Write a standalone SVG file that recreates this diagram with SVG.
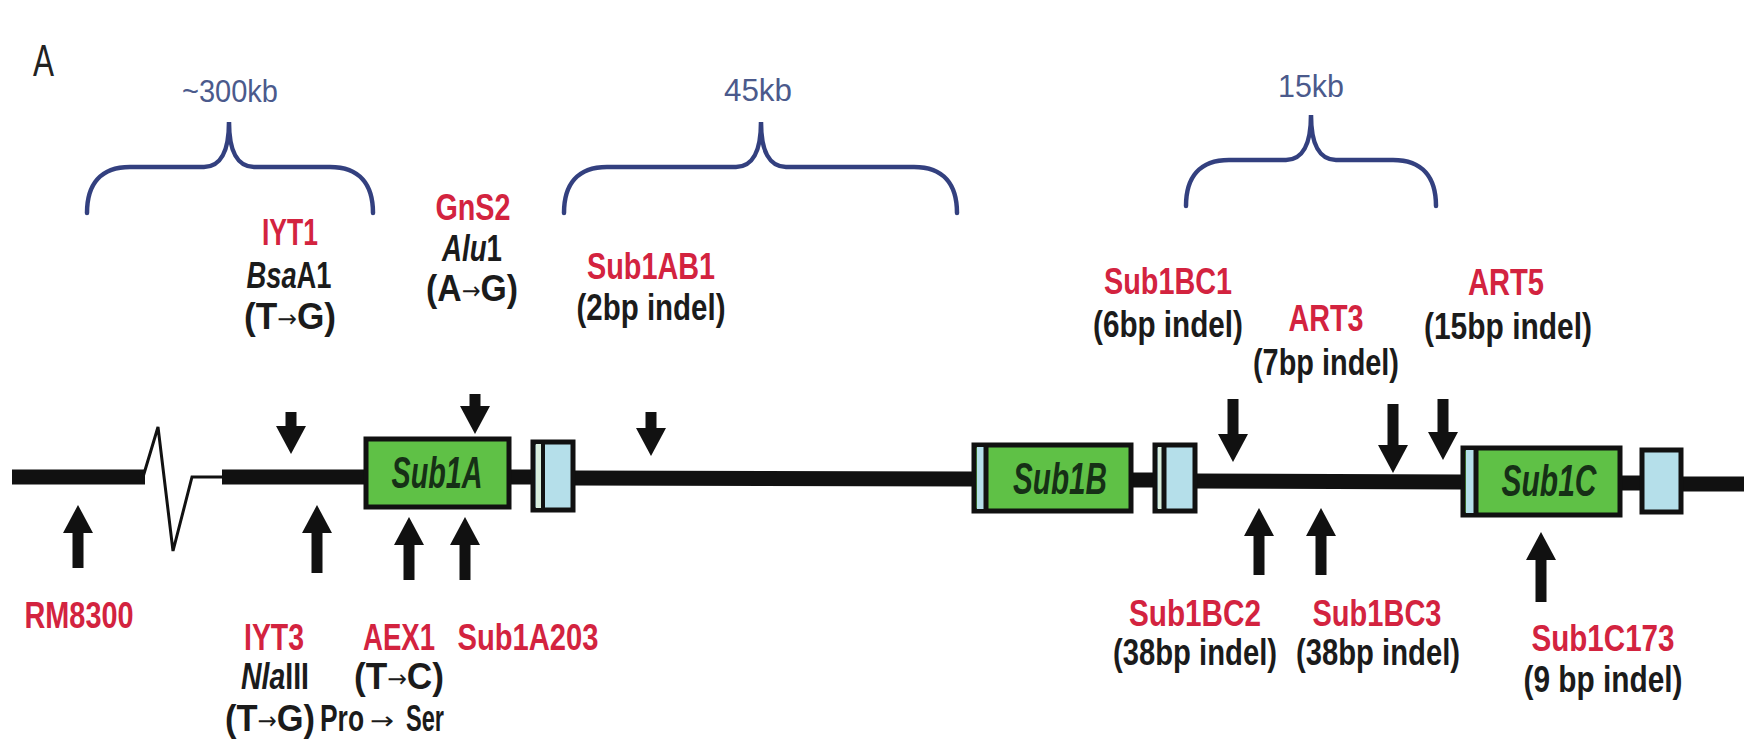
<svg xmlns="http://www.w3.org/2000/svg" width="1744" height="754" viewBox="0 0 1744 754">
<style>
text{font-family:"Liberation Sans",Arial,sans-serif;}
.r{fill:#d3233f;font-size:36px;font-weight:bold;text-anchor:middle;}
.k{fill:#1b1b1b;font-size:36px;font-weight:bold;text-anchor:middle;}
.s{text-anchor:start;}
.kb{fill:#4b5a8c;font-size:31px;text-anchor:middle;}
.g{fill:#163016;font-size:44px;font-style:italic;font-weight:bold;text-anchor:middle;}
.ar{font-family:"DejaVu Sans",sans-serif;font-size:24px;font-weight:normal;}
.br{fill:none;stroke:#33407f;stroke-width:4.5;stroke-linecap:round;}
.ln{stroke:#111;stroke-width:15;}
.thin{fill:none;stroke:#111;stroke-width:3;stroke-linejoin:miter;}
.box{stroke:#111;stroke-width:5;}
.gr{fill:#5fc146;}
.lb{fill:#b5dfea;}
.arr{stroke:#111;stroke-width:11;marker-end:url(#ah);}
</style>
<defs>
<marker id="ah" viewBox="0 0 28 30" refX="0" refY="15" markerWidth="28" markerHeight="30" markerUnits="userSpaceOnUse" orient="auto">
<path d="M0,0 L28,15 L0,30 Z" fill="#111"/>
</marker>
</defs>
<rect width="1744" height="754" fill="#fff"/>

<text x="33" y="76" style="font-family:'Liberation Sans',sans-serif;font-size:44px;fill:#222" textLength="21" lengthAdjust="spacingAndGlyphs">A</text>

<g id="braces">
<path class="br" d="M87,213 C87,185 100,167 130,167 L204,167 C220,167 229,152 229,122 C229,152 238,167 254,167 L330,167 C360,167 373,185 373,213"/>
<path class="br" d="M564,213 C564,185 577,167 607,167 L736,167 C752,167 761,152 761,122 C761,152 770,167 786,167 L914,167 C944,167 957,185 957,213"/>
<path class="br" d="M1186,206 C1186,178 1199,160 1229,160 L1286,160 C1302,160 1311,145 1311,115 C1311,145 1320,160 1336,160 L1393,160 C1423,160 1436,178 1436,206"/>
<text class="kb" x="230" y="102" textLength="96" lengthAdjust="spacingAndGlyphs">~300kb</text>
<text class="kb" x="758" y="101" textLength="68" lengthAdjust="spacingAndGlyphs">45kb</text>
<text class="kb" x="1311" y="97" textLength="66" lengthAdjust="spacingAndGlyphs">15kb</text>
</g>

<g id="backbone">
<line class="ln" x1="12" y1="477" x2="145" y2="477"/>
<polyline class="thin" points="143,477 158,427 173,551 192,477 224,477"/>
<line class="ln" x1="222" y1="477" x2="366" y2="477"/>
<line class="ln" x1="509" y1="477" x2="533" y2="477"/>
<line class="ln" x1="573" y1="478" x2="974" y2="479"/>
<line class="ln" x1="1131" y1="480" x2="1155" y2="480"/>
<line class="ln" x1="1195" y1="481" x2="1463" y2="482"/>
<line class="ln" x1="1620" y1="483" x2="1642" y2="483"/>
<line class="ln" x1="1681" y1="484" x2="1744" y2="484"/>
</g>

<g id="sub1a">
<rect class="box gr" x="366" y="439" width="143" height="68"/>
<text class="g" x="437" y="488" textLength="91" lengthAdjust="spacingAndGlyphs">Sub1A</text>
</g>
<g id="exon-a">
<rect class="box lb" x="533" y="442" width="40" height="68"/>
<rect x="536" y="444" width="5" height="64" fill="#d8eedd"/>
<line x1="543" y1="442" x2="543" y2="510" stroke="#111" stroke-width="4"/>
</g>

<g id="sub1b">
<rect class="box gr" x="974" y="445" width="157" height="66"/>
<rect x="977" y="447" width="8" height="62" fill="#b5dfea"/>
<line x1="986" y1="445" x2="986" y2="511" stroke="#111" stroke-width="5"/>
<text class="g" x="1060" y="494" textLength="94" lengthAdjust="spacingAndGlyphs">Sub1B</text>
</g>
<g id="exon-b">
<rect class="box lb" x="1155" y="445" width="40" height="66"/>
<rect x="1158" y="447" width="4" height="62" fill="#d8eedd"/>
<line x1="1164" y1="445" x2="1164" y2="511" stroke="#111" stroke-width="5"/>
</g>

<g id="sub1c">
<rect class="box gr" x="1463" y="448" width="157" height="67"/>
<rect x="1466" y="450" width="8" height="63" fill="#b5dfea"/>
<line x1="1476" y1="448" x2="1476" y2="515" stroke="#111" stroke-width="5"/>
<text class="g" x="1549" y="496" textLength="95" lengthAdjust="spacingAndGlyphs">Sub1C</text>
</g>
<g id="exon-c">
<rect class="box lb" x="1642" y="450" width="39" height="62"/>
</g>

<g id="connectors">
<line class="arr" x1="291" y1="412" x2="291" y2="426"/>
<line class="arr" x1="475" y1="394" x2="475" y2="406"/>
<line class="arr" x1="651" y1="412" x2="651" y2="428"/>
<line class="arr" x1="1233" y1="399" x2="1233" y2="434"/>
<line class="arr" x1="1393" y1="404" x2="1393" y2="445"/>
<line class="arr" x1="1443" y1="399" x2="1443" y2="432"/>
<line class="arr" x1="78" y1="568" x2="78" y2="533"/>
<line class="arr" x1="317" y1="573" x2="317" y2="533"/>
<line class="arr" x1="409" y1="580" x2="409" y2="545"/>
<line class="arr" x1="465" y1="580" x2="465" y2="545"/>
<line class="arr" x1="1259" y1="575" x2="1259" y2="536"/>
<line class="arr" x1="1321" y1="575" x2="1321" y2="536"/>
<line class="arr" x1="1541" y1="602" x2="1541" y2="560"/>
</g>

<g id="iyt1">
<text class="r" x="290" y="245" textLength="56" lengthAdjust="spacingAndGlyphs">IYT1</text>
<text class="k" x="289" y="288" textLength="85" lengthAdjust="spacingAndGlyphs"><tspan font-style="italic">Bsa</tspan>A1</text>
<text class="k" x="290" y="329" textLength="92" lengthAdjust="spacingAndGlyphs">(T<tspan class="ar" dy="-2">→</tspan><tspan dy="2">G)</tspan></text>
</g>
<g id="gns2">
<text class="r" x="473" y="220" textLength="75" lengthAdjust="spacingAndGlyphs">GnS2</text>
<text class="k" x="472" y="261" textLength="60" lengthAdjust="spacingAndGlyphs"><tspan font-style="italic">Alu</tspan>1</text>
<text class="k" x="472" y="301" textLength="92" lengthAdjust="spacingAndGlyphs">(A<tspan class="ar" dy="-2">→</tspan><tspan dy="2">G)</tspan></text>
</g>
<g id="sub1ab1">
<text class="r" x="651" y="279" textLength="128" lengthAdjust="spacingAndGlyphs">Sub1AB1</text>
<text class="k" x="651" y="320" textLength="149" lengthAdjust="spacingAndGlyphs">(2bp indel)</text>
</g>
<g id="sub1bc1">
<text class="r" x="1168" y="294" textLength="128" lengthAdjust="spacingAndGlyphs">Sub1BC1</text>
<text class="k" x="1168" y="337" textLength="150" lengthAdjust="spacingAndGlyphs">(6bp indel)</text>
</g>
<g id="art3">
<text class="r" x="1326" y="331" textLength="75" lengthAdjust="spacingAndGlyphs">ART3</text>
<text class="k" x="1326" y="375" textLength="146" lengthAdjust="spacingAndGlyphs">(7bp indel)</text>
</g>
<g id="art5">
<text class="r" x="1506" y="295" textLength="76" lengthAdjust="spacingAndGlyphs">ART5</text>
<text class="k" x="1508" y="339" textLength="168" lengthAdjust="spacingAndGlyphs">(15bp indel)</text>
</g>
<g id="rm8300">
<text class="r" x="79" y="628" textLength="109" lengthAdjust="spacingAndGlyphs">RM8300</text>
</g>
<g id="iyt3">
<text class="r" x="274" y="650" textLength="60" lengthAdjust="spacingAndGlyphs">IYT3</text>
<text class="k" x="275" y="689" textLength="68" lengthAdjust="spacingAndGlyphs"><tspan font-style="italic">Nla</tspan>III</text>
<text class="k" x="270" y="731" textLength="90" lengthAdjust="spacingAndGlyphs">(T<tspan class="ar" dy="-2">→</tspan><tspan dy="2">G)</tspan></text>
</g>
<g id="aex1">
<text class="r" x="399" y="650" textLength="72" lengthAdjust="spacingAndGlyphs">AEX1</text>
<text class="k" x="399" y="689" textLength="90" lengthAdjust="spacingAndGlyphs">(T<tspan class="ar" dy="-2">→</tspan><tspan dy="2">C)</tspan></text>
<text class="k s" x="320" y="731" textLength="44" lengthAdjust="spacingAndGlyphs">Pro</text>
<text class="k s ar" x="370" y="729" textLength="24" lengthAdjust="spacingAndGlyphs">→</text>
<text class="k s" x="406" y="731" textLength="38" lengthAdjust="spacingAndGlyphs">Ser</text>
</g>
<g id="sub1a203">
<text class="r" x="528" y="650" textLength="141" lengthAdjust="spacingAndGlyphs">Sub1A203</text>
</g>
<g id="sub1bc2">
<text class="r" x="1195" y="626" textLength="132" lengthAdjust="spacingAndGlyphs">Sub1BC2</text>
<text class="k" x="1195" y="665" textLength="164" lengthAdjust="spacingAndGlyphs">(38bp indel)</text>
</g>
<g id="sub1bc3">
<text class="r" x="1377" y="626" textLength="129" lengthAdjust="spacingAndGlyphs">Sub1BC3</text>
<text class="k" x="1378" y="665" textLength="164" lengthAdjust="spacingAndGlyphs">(38bp indel)</text>
</g>
<g id="sub1c173">
<text class="r" x="1603" y="651" textLength="143" lengthAdjust="spacingAndGlyphs">Sub1C173</text>
<text class="k" x="1603" y="692" textLength="159" lengthAdjust="spacingAndGlyphs">(9 bp indel)</text>
</g>
</svg>
